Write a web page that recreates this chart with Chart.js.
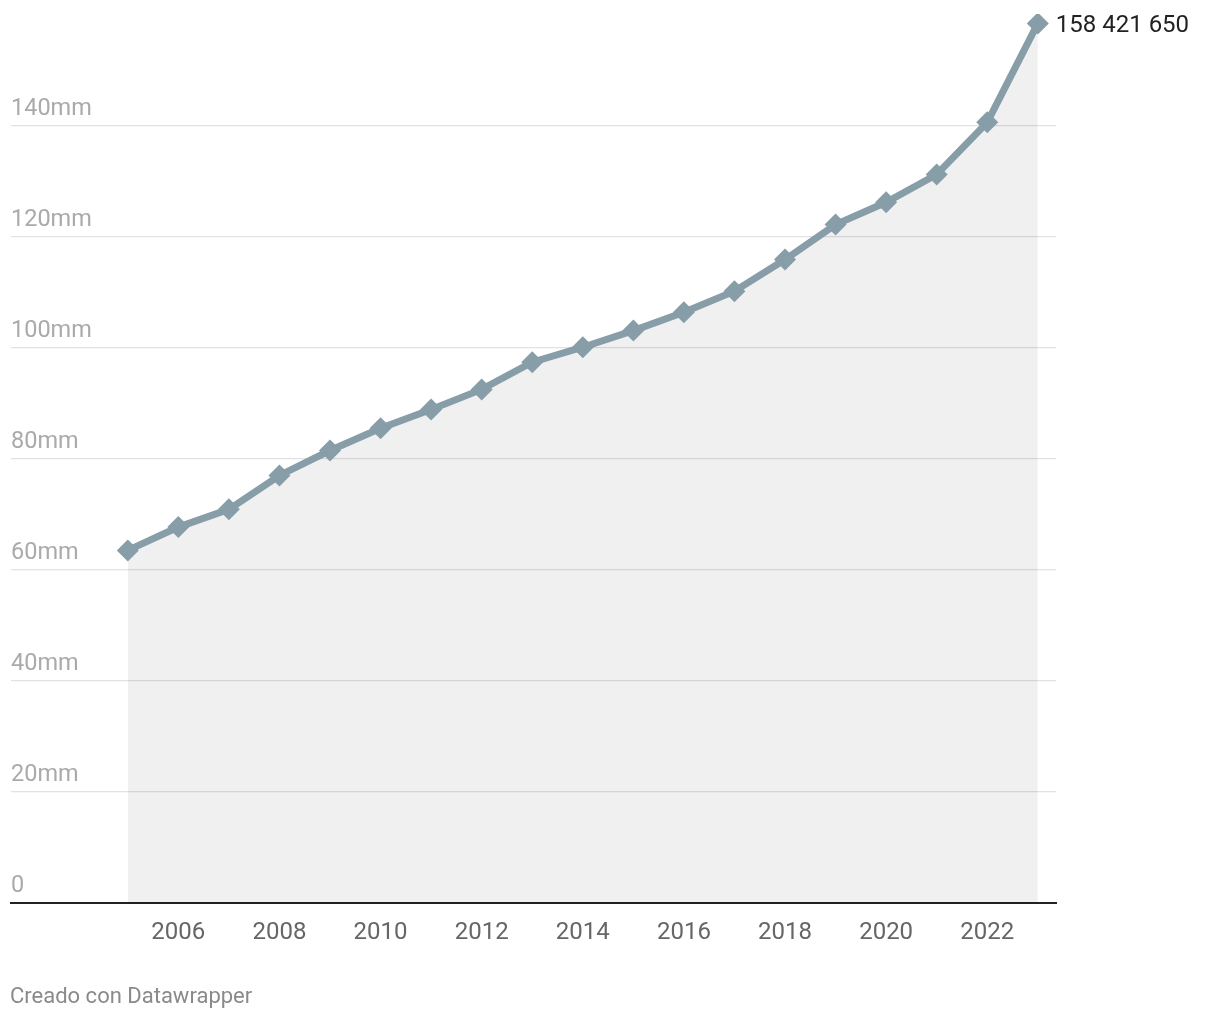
<!DOCTYPE html>
<html>
<head>
<meta charset="utf-8">
<script src="https://cdn.jsdelivr.net/npm/chart.js@4/dist/chart.umd.min.js"></script>
<style>
  body { margin: 0; background: #fff; font-family: Roboto, sans-serif; }
  #wrap { position: relative; width: 1220px; height: 1020px; }
  #credit { position: absolute; left: 10px; top: 983px; font-size: 22px; color: #8a8a8a; }
</style>
</head>
<body>
<div id="wrap">
  <canvas id="chart" width="1220" height="1020"></canvas>
  <div id="credit">Creado con Datawrapper</div>
</div>
<script>
    // --- DATA ---
    const years = [2005, 2006, 2007, 2008, 2009, 2010, 2011, 2012, 2013, 2014,
                   2015, 2016, 2017, 2018, 2019, 2020, 2021, 2022, 2023];
    const values = [63.5, 67.7, 70.9, 77.0, 81.5, 85.5, 88.9, 92.5, 97.4, 100.1,
                    103.1, 106.4, 110.2, 115.9, 122.2, 126.2, 131.2, 140.6, 158.42165];
    const xTickYears = [2006, 2008, 2010, 2012, 2014, 2016, 2018, 2020, 2022];
    const yTickValues = [0, 20, 40, 60, 80, 100, 120, 140];
    const lastLabel = '158 421 650';

    // label next to the last point
    const endLabel = {
        id: 'endLabel',
        afterDatasetsDraw(chart) {
            const pt = chart.getDatasetMeta(0).data[values.length - 1];
            const ctx = chart.ctx;
            ctx.save();
            ctx.font = '24px Roboto';
            ctx.fillStyle = '#222';
            ctx.textAlign = 'left';
            ctx.textBaseline = 'middle';
            ctx.fillText(lastLabel, pt.x + 18, pt.y + 3);
            ctx.restore();
        }
    };

    const ctx = document.getElementById('chart').getContext('2d');
    new Chart(ctx, {
        type: 'line',
        data: {
            datasets: [{
                data: years.map((y, i) => ({ x: y, y: values[i] })),
                borderColor: '#879da8',
                backgroundColor: 'rgba(0, 0, 0, 0.058)',
                borderWidth: 7,
                fill: 'origin',
                tension: 0,
                pointStyle: 'rectRot',
                pointRadius: 11,
                pointBackgroundColor: '#879da8',
                pointBorderWidth: 0
            }]
        },
        options: {
            responsive: false,
            animation: false,
            layout: { padding: { left: 10, right: 164, top: 0, bottom: 0 } },
            plugins: {
                legend: { display: false },
                tooltip: { enabled: false }
            },
            scales: {
                x: {
                    type: 'linear',
                    min: 2002.69,
                    max: 2023.36,
                    afterBuildTicks: (axis) => {
                        axis.ticks = xTickYears.map(v => ({ value: v }));
                    },
                    afterFit: (axis) => { axis.height = 117; },
                    grid: { display: false },
                    border: { display: true, color: '#222', width: 2 },
                    ticks: {
                        color: '#666',
                        font: { family: 'Roboto', size: 24 },
                        padding: 8,
                        maxRotation: 0,
                        autoSkip: false,
                        callback: (v) => String(v)
                    }
                },
                y: {
                    min: 0,
                    max: 160.1,
                    afterBuildTicks: (axis) => {
                        axis.ticks = yTickValues.map(v => ({ value: v }));
                    },
                    afterFit: (axis) => { axis.width = 0; },
                    border: { display: false },
                    grid: { color: '#e2e2e2', lineWidth: 1.3, drawTicks: false },
                    ticks: {
                        mirror: true,
                        padding: 0,
                        labelOffset: -17,
                        color: '#aaa',
                        font: { family: 'Roboto', size: 23.5 },
                        callback: (v) => v === 0 ? '0' : v + 'mm'
                    }
                }
            }
        },
        plugins: [endLabel]
    });
</script>
</body>
</html>
